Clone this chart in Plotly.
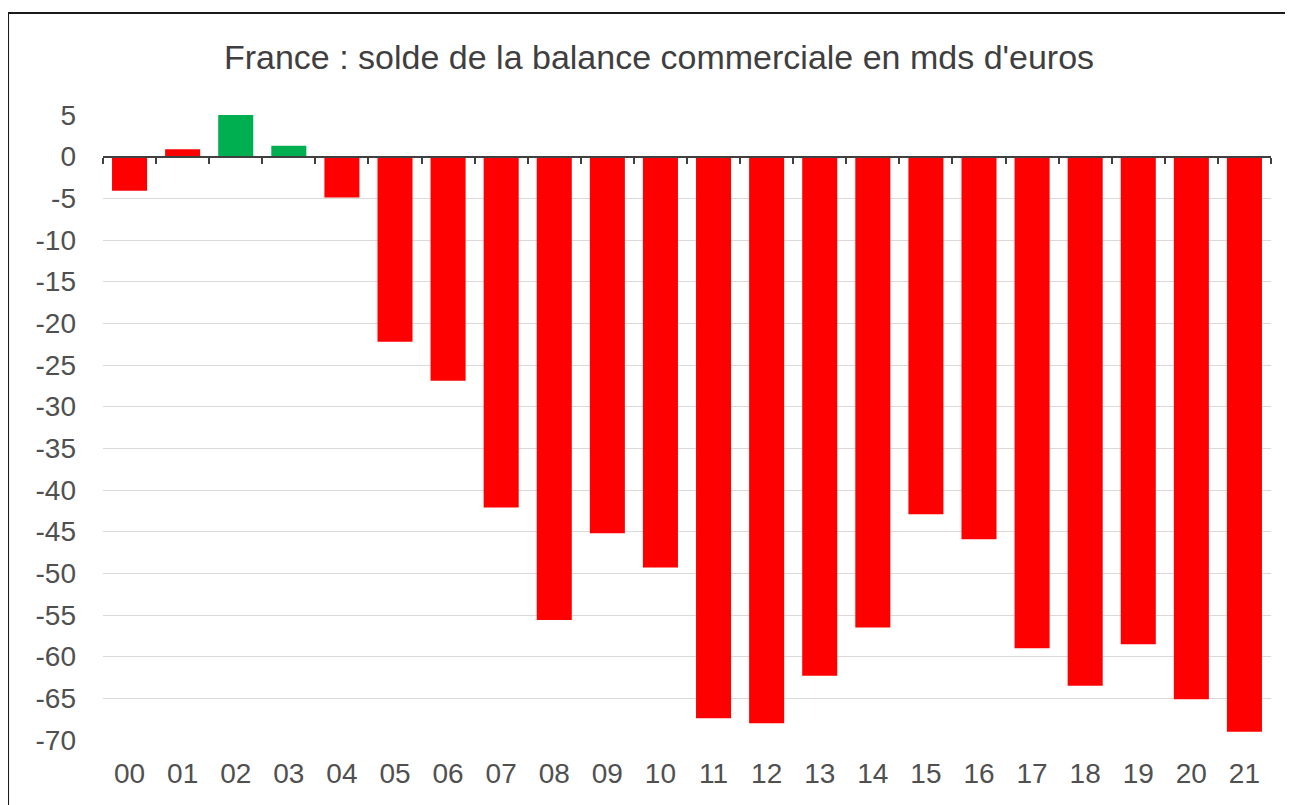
import plotly.graph_objects as go

years = ["00", "01", "02", "03", "04", "05", "06", "07", "08", "09", "10",
         "11", "12", "13", "14", "15", "16", "17", "18", "19", "20", "21"]
balance = [-4.1, 0.9, 5.0, 1.3, -4.9, -22.2, -26.9, -42.1, -55.6, -45.2, -49.3,
           -67.4, -68.0, -62.3, -56.5, -42.9, -45.9, -59.0, -63.5, -58.5, -65.1, -69.0]
bar_colors = ["#FF0000", "#FF0000", "#00B050", "#00B050"] + ["#FF0000"] * 18
y_ticks = list(range(5, -71, -5))
y_ticktext = [str(v) for v in y_ticks]  # plain hyphen minus as in the source

title_text = "France : solde de la balance commerciale en mds d'euros"

fig = go.Figure()
fig.add_trace(go.Bar(x=years, y=balance, marker=dict(color=bar_colors, line=dict(width=0)),
                     showlegend=False, hoverinfo="x+y"))
# invisible trace so the zero-line axis (with boundary ticks) is drawn
fig.add_trace(go.Scatter(x=years, y=[0] * len(years), mode="none", xaxis="x2",
                         showlegend=False, hoverinfo="skip"))

ymin, ymax = -70, 5
zero_pos = (0 - ymin) / (ymax - ymin)
font_family = "Liberation Sans, Arial, sans-serif"

fig.update_layout(
    width=1293, height=805,
    margin=dict(l=95, r=30, t=107, b=73),
    paper_bgcolor="white", plot_bgcolor="white",
    bargap=0.34,
    title=dict(text=title_text, x=0.5035, xanchor="center", y=0.939, yanchor="middle",
               font=dict(family=font_family, size=34, color="#3f3f3f")),
    font=dict(family=font_family, color="#505050"),
    xaxis=dict(type="category", categoryarray=years, range=[-0.5, 21.5],
               showgrid=False, showline=False, ticks="", zeroline=False,
               tickfont=dict(size=28, color="#505050"), ticklabelstandoff=14),
    xaxis2=dict(type="category", categoryarray=years, range=[-0.5, 21.5],
                overlaying="x", anchor="free", position=zero_pos,
                showticklabels=False, showgrid=False, zeroline=False,
                showline=True, linecolor="#404040", linewidth=2,
                ticks="outside", tickson="boundaries", ticklen=6, tickwidth=2,
                tickcolor="#404040"),
    yaxis=dict(range=[ymin, ymax], tickvals=y_ticks, ticktext=y_ticktext, showgrid=True,
               gridcolor="#D9D9D9", gridwidth=1, zeroline=False, showline=False,
               ticks="", tickfont=dict(size=28, color="#505050"), ticklabelstandoff=26),
    shapes=[dict(type="rect", xref="paper", yref="paper",
                 x0=-0.0813, x1=1.2, y0=-0.3, y1=1.1632,
                 line=dict(color="#1a1a1a", width=2), fillcolor="rgba(0,0,0,0)",
                 layer="below")],
)

fig.write_html("out.html")
